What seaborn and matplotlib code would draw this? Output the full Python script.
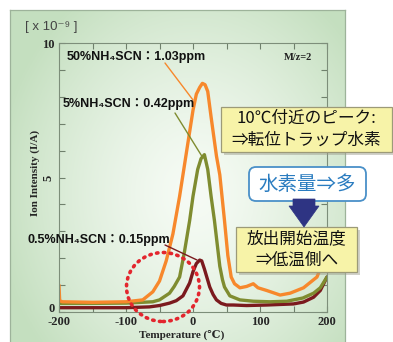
import numpy as np
import pandas as pd
import matplotlib
matplotlib.use("Agg")
import matplotlib.pyplot as plt
import seaborn as sns
from matplotlib.patches import Rectangle, FancyBboxPatch, Ellipse, Polygon
from matplotlib.lines import Line2D

# ---------------- data ----------------
temp_50 = [-200, -199, -195, -150, -100, -75, -60, -50, -40, -30, -20, -10, 0, 5, 10, 14,
           18, 22, 27, 35, 40, 47, 52, 57, 62, 70, 80, 90, 97, 110, 130, 145, 165, 185, 200]
ion_50 = [1.0, 0.42, 0.38, 0.36, 0.38, 0.45, 0.75, 1.15, 1.9, 2.9, 4.3, 5.9, 7.5, 8.1, 8.35, 8.5,
          8.45, 8.2, 7.25, 5.8, 5.1, 3.4, 2.1, 1.3, 1.05, 0.9, 0.95, 1.05, 0.9, 0.8, 0.63, 0.7, 0.9, 1.3, 2.2]

temp_5 = [-200, -150, -100, -60, -50, -35, -28, -20, -13, -5, 0, 7, 12, 17, 22, 27, 32,
          40, 44, 47, 55, 70, 90, 115, 140, 164, 180, 190, 200]
ion_5 = [0.32, 0.32, 0.33, 0.38, 0.45, 0.7, 0.95, 1.3, 2.2, 3.4, 4.3, 5.3, 5.7, 5.85, 5.3, 4.3, 3.4,
         1.7, 1.2, 0.93, 0.6, 0.45, 0.4, 0.38, 0.4, 0.52, 0.7, 0.9, 1.3]

temp_05 = [-200, -150, -100, -65, -50, -35, -25, -15, -5, 0, 5, 10, 13, 17, 25, 30, 35, 42,
           50, 60, 80, 110, 150, 165, 180, 190, 200]
ion_05 = [0.16, 0.16, 0.16, 0.19, 0.24, 0.33, 0.42, 0.6, 1.08, 1.5, 1.8, 1.93, 1.9, 1.6, 0.93, 0.65,
          0.45, 0.32, 0.26, 0.26, 0.24, 0.26, 0.3, 0.37, 0.55, 0.8, 1.3]

series_names = ["0.5%NH4SCN", "5%NH4SCN", "50%NH4SCN"]
series_colors = ["#7b1a1e", "#7f8c30", "#f7882c"]
label_texts = ["0.5%NH₄SCN：0.15ppm", "5%NH₄SCN：0.42ppm", "50%NH₄SCN：1.03ppm"]

x_ticks = [-200, -100, 0, 100, 200]
y_ticks = [0, 5, 10]
y_tick_labels = ["0", "5", "10"]

# ---------------- figure ----------------
sns.set_style("ticks")
plt.rcParams["font.family"] = ["Liberation Sans", "Noto Sans CJK JP", "DejaVu Sans"]

W, H = 393, 342
fig = plt.figure(figsize=(W / 100, H / 100), dpi=100)
fig.patch.set_facecolor("white")
inch = fig.dpi_scale_trans


def P(px, py):
    return (px / 100.0, (H - py) / 100.0)


# background panel with soft green gradient
bg = fig.add_axes([10 / W, 0, 335 / W, 332 / H])
ny, nx = 200, 200
yy, xx = np.mgrid[0:ny, 0:nx]
cx, cy = 0.55 * nx, 0.55 * ny
d = np.sqrt(((xx - cx) / (0.6 * nx)) ** 2 + ((yy - cy) / (0.72 * ny)) ** 2)
t = np.clip(d, 0, 1) ** 1.4
white = np.array([0.965, 0.985, 0.96])
green = np.array([0.77, 0.875, 0.75])
img = white[None, None, :] * (1 - t[..., None]) + green[None, None, :] * t[..., None]
bg.imshow(img, extent=[0, 1, 0, 1], aspect="auto", origin="upper")
bg.set_xticks([])
bg.set_yticks([])
for s in ["top", "left", "right"]:
    bg.spines[s].set_color("#9db39a")
    bg.spines[s].set_linewidth(0.9)
bg.spines["bottom"].set_visible(False)

# main axes
ax = fig.add_axes([59 / W, 30 / H, 268 / W, 269 / H])
ax.patch.set_alpha(0)

frames = []
for name, tt, ii in zip(series_names, [temp_05, temp_5, temp_50], [ion_05, ion_5, ion_50]):
    frames.append(pd.DataFrame({"Temperature": tt, "Ion": ii, "series": name}))
df = pd.concat(frames, ignore_index=True)

sns.lineplot(data=df, x="Temperature", y="Ion", hue="series", hue_order=series_names,
             palette=series_colors, estimator=None, linewidth=2.4, legend=False, ax=ax)

ax.set_xlim(-200, 200)
ax.set_ylim(0, 10)
ax.set_xticks(x_ticks)
ax.set_xticks([-150, -50, 50, 150], minor=True)
ax.set_yticks(y_ticks)
ax.set_yticks([1, 2, 3, 4, 6, 7, 8, 9], minor=True)
serif = dict(family="Liberation Serif", weight="bold", size=9)
ax.set_xticklabels([str(v) for v in x_ticks], fontdict=serif)
ax.set_yticklabels(y_tick_labels, fontdict=serif)
ax.get_yticklabels()[1].set_rotation(90)
ax.get_yticklabels()[1].set_va("center")
ax.get_yticklabels()[0].set_va("baseline")
ax.tick_params(which="both", direction="in", top=True, right=True, length=4, width=0.8,
               color="#6f806c")
ax.tick_params(axis="y", pad=3)
ax.tick_params(axis="x", pad=3)
for s in ax.spines.values():
    s.set_color("#7d8e7a")
    s.set_linewidth(0.8)

ax.set_xlabel("Temperature (℃)", family=["Liberation Serif", "DejaVu Serif"], weight="bold", size=8)
ax.xaxis.set_label_coords(0.457, -0.066)
ax.set_ylabel("Ion Intensity (I/A)", family="Liberation Serif", weight="bold", size=8)
ax.yaxis.set_label_coords(-0.088, 0.517)
ax.yaxis.label.set_va("center")

# texts
fig.text(25 / W, 1 - 27 / H, "[ x 10⁻⁹ ]", ha="left", va="center", size=9.5, color="#444444",
         family=["Liberation Sans", "DejaVu Sans"])
fig.text(298 / W, 1 - 57 / H, "M/z=2", ha="center", va="center", size=7.5,
         family="Liberation Serif", weight="bold", color="#222222")

lab_pos = [(27, 240), (63, 104), (67, 57)]
for txt, (lx, ly) in zip(label_texts, lab_pos):
    fig.text(lx / W, 1 - ly / H, txt, ha="left", va="center", size=9, weight="bold",
             family=["Liberation Sans", "Noto Sans CJK JP", "DejaVu Sans"], color="#111111")

# leader lines
leaders = [((165, 245), (197, 260)), ((175, 113), (203, 158)), ((165, 63), (193, 100))]
for (p0, p1), c in zip(leaders, series_colors):
    a, b = P(*p0), P(*p1)
    fig.add_artist(Line2D([a[0], b[0]], [a[1], b[1]], transform=inch, color=c, lw=1.0))

# red dotted circle
fig.add_artist(Ellipse(P(163, 287), 73 / 100, 69 / 100, transform=inch, fill=False,
                       edgecolor="#e3262e", lw=2.6, linestyle=(0, (0.4, 1.5)),
                       capstyle="round"))


def yellow_box(x0, y0, x1, y1, lines, size):
    sh = Rectangle(P(x0 + 3, y1 + 3), (x1 - x0) / 100, (y1 - y0) / 100, transform=inch,
                   facecolor="#9a9a8a", alpha=0.45, edgecolor="none")
    fig.add_artist(sh)
    r = Rectangle(P(x0, y1), (x1 - x0) / 100, (y1 - y0) / 100, transform=inch,
                  facecolor="#f7f3a8", edgecolor="#9c9a78", lw=0.9)
    fig.add_artist(r)
    cxp = (x0 + x1) / 2
    n = len(lines)
    hgt = (y1 - y0)
    for i, ln in enumerate(lines):
        yy_ = y0 + hgt * (i + 0.5) / n
        fig.text(cxp / W, 1 - yy_ / H, ln, ha="center", va="center", size=size,
                 family=["Noto Sans CJK JP", "DejaVu Sans"], color="#111111")


yellow_box(221, 107, 392, 152, ["10℃付近のピーク:", "⇒転位トラップ水素"], 12)
yellow_box(236, 227, 357, 272, ["放出開始温度", "⇒低温側へ"], 12)

# blue rounded box
bb = FancyBboxPatch(P(249, 201), (366 - 249) / 100, (201 - 167) / 100, transform=inch,
                    boxstyle="round,pad=0,rounding_size=0.07", facecolor="white",
                    edgecolor="#4a90c8", lw=1.3)
fig.add_artist(bb)
fig.text(307.5 / W, 1 - 184 / H, "水素量⇒多", ha="center", va="center", size=14,
         family=["Noto Sans CJK JP", "DejaVu Sans"], color="#2a7cc0")

# down arrow
arrow_pts = [P(293, 199), P(315, 199), P(315, 206), P(319, 206), P(304, 227), P(289, 206), P(293, 206)]
fig.add_artist(Polygon(arrow_pts, closed=True, transform=inch, facecolor="#2e3483",
                       edgecolor="#2e3483", lw=0.5))

fig.savefig("out.png", dpi=100)
